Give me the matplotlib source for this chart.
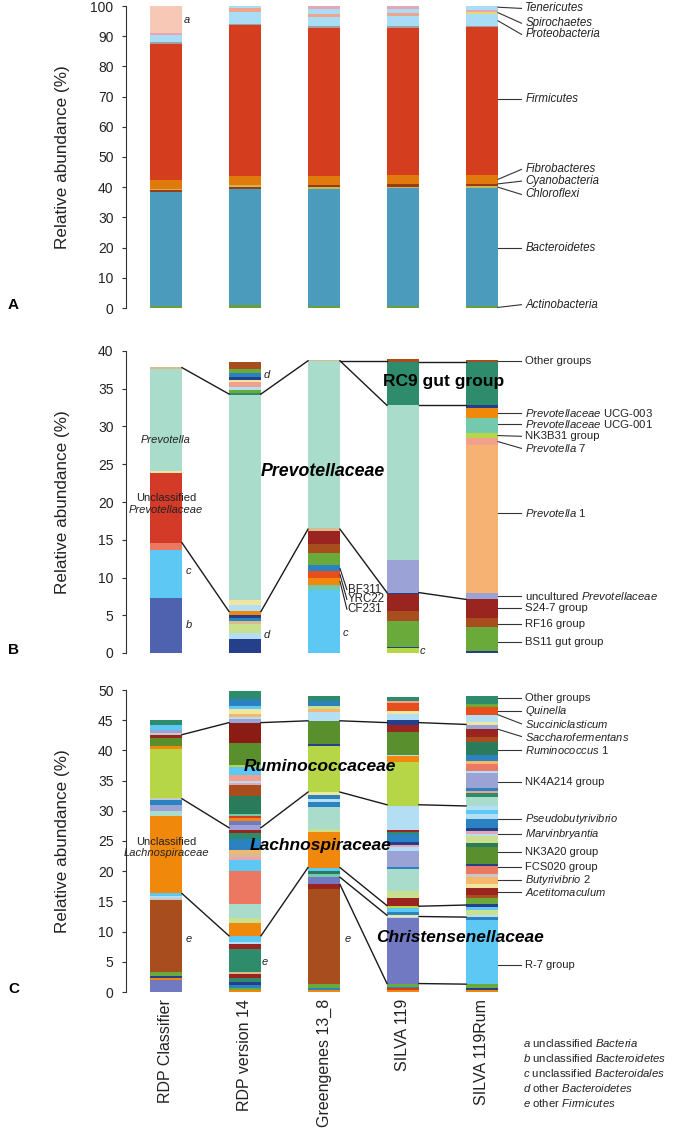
import matplotlib
matplotlib.use("Agg")
import matplotlib.pyplot as plt
import numpy as np

plt.rcParams['font.family'] = 'Liberation Sans'
plt.rcParams['mathtext.fontset'] = 'custom'
plt.rcParams['mathtext.rm'] = 'Liberation Sans'
plt.rcParams['mathtext.it'] = 'Liberation Sans:italic'
plt.rcParams['mathtext.bf'] = 'Liberation Sans:bold'

# ---------------- data ----------------
databases = ["RDP Classifier", "RDP version 14", "Greengenes 13_8", "SILVA 119", "SILVA 119Rum"]

# panel A: phyla, relative abundance (%) of each stacked segment, bottom -> top
A_rdp = [0.7, 37.8, 0.5, 0.5, 3.0, 45.0, 0.5, 2.3, 0.7, 9.0]
A_rdp14 = [1.0, 38.4, 0.7, 0.5, 3.2, 50.0, 0.4, 3.8, 1.2, 0.8]
A_gg = [0.8, 38.7, 0.6, 0.7, 3.0, 49.0, 0.6, 3.1, 1.0, 1.5, 1.0]
A_silva = [0.8, 38.9, 0.5, 0.8, 3.0, 48.8, 0.6, 3.2, 1.0, 1.4, 1.0]
A_rum = [0.8, 39.0, 0.5, 0.7, 3.0, 49.0, 0.5, 3.7, 0.8, 0.8, 1.2]

# panel B: Bacteroidetes genera
B_rdp = [7.3, 6.3, 1.0, 9.2, 0.3, 13.5, 0.3]
B_rdp14 = [1.8, 0.8, 1.2, 0.5, 0.4, 0.3, 0.5, 0.8, 0.7, 27.2, 0.3, 0.3, 0.4, 0.7, 0.2, 0.4, 0.6, 0.5, 0.9]
B_gg = [8.3, 0.7, 0.9, 1.0, 0.7, 1.6, 1.3, 1.7, 0.3, 22.2, 0.1]
B_silva = [0.6, 0.2, 3.4, 1.3, 2.3, 0.2, 4.3, 20.5, 5.7, 0.4]
B_rum = [0.2, 3.2, 1.3, 2.4, 0.9, 19.5, 1.0, 0.6, 2.0, 1.4, 0.3, 5.7, 0.3]

# panel C: Firmicutes genera
C_rdp = [2.0, 0.3, 0.3, 0.7, 12.0, 0.3, 0.3, 0.5, 12.7, 0.9, 1.0, 0.8, 0.3, 8.1,
         0.5, 1.4, 0.4, 0.4, 0.4, 0.9, 0.8]
C_rdp14 = [0.3, 0.4, 0.5, 0.4, 0.7, 0.7, 0.3, 3.9, 0.7, 0.4, 1.0, 2.2, 0.8, 2.3, 5.5,
           1.8, 0.4, 0.7, 0.5, 1.8, 1.1, 0.5, 0.3, 0.4, 0.7, 0.5, 0.4, 0.3, 2.9, 1.9,
           0.3, 0.4, 0.9, 1.3, 0.4, 3.7, 3.3, 0.6, 0.4, 0.4, 0.9, 0.4, 1.2, 1.3]
C_gg = [0.3, 0.3, 0.7, 15.7, 0.8, 1.2, 0.5, 0.5, 0.6, 5.9, 0.5, 3.6, 0.9, 0.4, 0.7,
        0.5, 7.7, 0.2, 3.8, 1.5, 0.5, 0.5, 0.9, 0.8]
C_silva = [0.3, 0.3, 0.3, 0.5, 10.8, 0.3, 0.3, 0.4, 0.7, 0.4, 1.2, 1.2, 3.6, 0.4,
           2.6, 0.7, 0.4, 0.4, 1.3, 0.4, 0.3, 4.0, 7.2, 1.0, 0.3, 3.7, 1.2, 0.9,
           1.0, 0.4, 1.3, 0.4, 0.6]
C_rum = [0.3, 0.3, 0.7, 10.7, 0.4, 0.4, 0.7, 0.6, 0.4, 1.0, 0.5, 1.3, 0.5, 1.2, 0.6,
         1.2, 0.4, 2.8, 0.6, 1.2, 0.4, 0.5, 0.4, 1.6, 0.8, 0.6, 0.7, 1.5, 0.6, 0.3,
         0.5, 2.6, 0.3, 1.2, 0.4, 1.0, 2.2, 0.9, 1.3, 0.6, 0.5, 1.1, 1.4, 0.4, 1.4]

# family connector lines: (from bar, value at that bar, value at next bar)
B_links = [(0, 37.8, 34.3), (1, 34.3, 38.7), (2, 38.7, 38.7), (2, 38.7, 32.8),
           (3, 38.6, 38.6), (3, 32.9, 32.9),
           (0, 14.6, 5.5), (1, 5.5, 16.4), (2, 16.4, 8.0), (3, 8.0, 7.1)]
C_links = [(0, 42.6, 44.6), (1, 44.6, 44.9), (2, 44.9, 44.6), (3, 44.6, 44.3),
           (0, 32.0, 27.2), (1, 27.2, 33.1), (2, 33.1, 31.0), (3, 31.0, 30.8),
           (0, 16.3, 9.3), (1, 9.3, 20.6), (2, 20.6, 14.3), (3, 14.2, 14.4),
           (2, 19.0, 12.7), (3, 12.5, 12.4), (2, 17.8, 1.4), (3, 1.4, 1.3)]

# right-hand labels: (text, value at bar, value at label)
A_labels = [("Tenericutes", 99.6, 99.2), ("Spirochaetes", 97.8, 94.3),
            ("Proteobacteria", 95.1, 90.6), ("Firmicutes", 69.2, 69.2),
            ("Fibrobacteres", 42.6, 45.9), ("Cyanobacteria", 41.1, 42.0),
            ("Chloroflexi", 40.0, 37.6), ("Bacteroidetes", 19.8, 19.8),
            ("Actinobacteria", 0.2, 1.1)]
B_labels = [("Other groups", 38.7, 38.7),
            (r"$\mathit{Prevotellaceae}\ $UCG-003", 31.8, 31.8),
            (r"$\mathit{Prevotellaceae}\ $UCG-001", 30.3, 30.3),
            ("NK3B31 group", 28.8, 28.7),
            (r"$\mathit{Prevotella}\ $7", 28.0, 27.1),
            (r"$\mathit{Prevotella}\ $1", 18.6, 18.6),
            (r"uncultured$\ \mathit{Prevotellaceae}$", 7.5, 7.5),
            ("S24-7 group", 5.9, 5.9), ("RF16 group", 3.9, 3.9),
            ("BS11 gut group", 1.5, 1.5)]
C_labels = [("Other groups", 48.6, 48.6), (r"$\mathit{Quinella}$", 46.5, 46.5),
            (r"$\mathit{Succiniclasticum}$", 45.9, 44.4),
            (r"$\mathit{Saccharofermentans}$", 43.5, 42.3),
            (r"$\mathit{Ruminococcus}\ $1", 40.1, 40.1),
            ("NK4A214 group", 34.7, 34.7),
            (r"$\mathit{Pseudobutyrivibrio}$", 28.6, 28.6),
            (r"$\mathit{Marvinbryantia}$", 26.1, 26.1),
            ("NK3A20 group", 23.1, 23.1), ("FCS020 group", 20.7, 20.7),
            (r"$\mathit{Butyrivibrio}\ $2", 18.6, 18.6),
            (r"$\mathit{Acetitomaculum}$", 16.5, 16.5),
            ("R-7 group", 4.5, 4.5)]

footnotes = [r"$\mathit{a}\ $unclassified$\ \mathit{Bacteria}$",
             r"$\mathit{b}\ $unclassified$\ \mathit{Bacteroidetes}$",
             r"$\mathit{c}\ $unclassified$\ \mathit{Bacteroidales}$",
             r"$\mathit{d}\ $other$\ \mathit{Bacteroidetes}$",
             r"$\mathit{e}\ $other$\ \mathit{Firmicutes}$"]

# ---------------- colours ----------------
pal = {
    'actino': '#6b9e3c', 'bact': '#4b9bbd', 'chloro': '#c9b84a', 'cyano': '#9c3a1e',
    'fibro': '#e07a0c', 'firm': '#d43e1f', 'grey': '#a0a0a0', 'proteo': '#a9dcf5',
    'spiro': '#f0a48e', 'pink': '#e8a6b4', 'uncbac': '#f8c8b6', 'yellow': '#e8d870',
    'navy': '#263f8b', 'blue': '#2b82c0', 'sky': '#5ec8f5', 'pale': '#b4def3',
    'lav': '#9aa2d6', 'slate': '#7079c2', 'mint': '#a9dccb', 'sea': '#72c9ac',
    'teal': '#2e8b6c', 'dteal': '#2a7a5c', 'green': '#6aaa3a', 'olive': '#5a8f2e',
    'lime': '#b7d647', 'plime': '#c9e08e', 'pyel': '#efe6a0', 'tan': '#d9bb8e',
    'peach': '#f5b272', 'salmon': '#ec7862', 'lsalmon': '#f0a08c', 'orange': '#f0880c',
    'rorange': '#e84e1c', 'red': '#d43a28', 'dred': '#9a2420', 'brown': '#a84d1d',
    'maroon': '#8a1c14', 'unb': '#4f62b0', 'ltorange': '#f5b86a', 'grey2': '#c8c8c8',
}

A_cols = [
    ['actino', 'bact', 'cyano', 'chloro', 'fibro', 'firm', 'grey', 'proteo', 'pink', 'uncbac'],
    ['actino', 'bact', 'cyano', 'chloro', 'fibro', 'firm', 'grey', 'proteo', 'spiro', 'proteo'],
    ['actino', 'bact', 'chloro', 'cyano', 'fibro', 'firm', 'grey', 'proteo', 'spiro', 'proteo', 'pink'],
    ['actino', 'bact', 'chloro', 'cyano', 'fibro', 'firm', 'grey', 'proteo', 'spiro', 'proteo', 'pink'],
    ['actino', 'bact', 'chloro', 'cyano', 'fibro', 'firm', 'grey', 'proteo', 'yellow', 'pink', 'proteo'],
]
B_cols = [
    ['unb', 'sky', 'salmon', 'red', 'pyel', 'mint', 'tan'],
    ['navy', 'pale', 'plime', 'tan', 'blue', 'navy', 'orange', 'pale', 'pyel', 'mint',
     'teal', 'green', 'pale', 'lsalmon', 'pyel', 'navy', 'blue', 'green', 'brown'],
    ['sky', 'sea', 'orange', 'rorange', 'blue', 'green', 'brown', 'dred', 'tan', 'mint', 'tan'],
    ['lime', 'navy', 'green', 'brown', 'dred', 'navy', 'lav', 'mint', 'teal', 'brown'],
    ['navy', 'green', 'brown', 'dred', 'lav', 'peach', 'lsalmon', 'lime', 'sea', 'orange',
     'navy', 'teal', 'brown'],
]
C_cols = [
    ['slate', 'orange', 'navy', 'green', 'brown', 'grey2', 'pale', 'sky', 'orange', 'mint',
     'lav', 'blue', 'grey2', 'lime', 'orange', 'olive', 'dred', 'grey2', 'lav', 'sky', 'teal'],
    ['orange', 'green', 'blue', 'navy', 'teal', 'dred', 'tan', 'teal', 'dred', 'pale', 'sky',
     'orange', 'plime', 'mint', 'salmon', 'sky', 'pink', 'tan', 'ltorange', 'blue', 'teal',
     'dred', 'lav', 'lav', 'slate', 'orange', 'red', 'sea', 'dteal', 'brown', 'pink', 'pale',
     'lsalmon', 'sky', 'lime', 'olive', 'maroon', 'lav', 'pale', 'ltorange', 'pyel', 'sky',
     'blue', 'teal'],
    ['orange', 'blue', 'green', 'brown', 'dred', 'slate', 'sea', 'dteal', 'sky', 'orange',
     'plime', 'mint', 'blue', 'pale', 'blue', 'pyel', 'lime', 'navy', 'olive', 'pale',
     'ltorange', 'plime', 'blue', 'teal'],
    ['orange', 'red', 'blue', 'green', 'slate', 'pale', 'pyel', 'blue', 'sky', 'lime', 'dred',
     'plime', 'mint', 'blue', 'lav', 'pale', 'pink', 'navy', 'blue', 'teal', 'dred', 'pale',
     'lime', 'orange', 'pale', 'olive', 'dred', 'navy', 'pale', 'pyel', 'rorange', 'lsalmon',
     'teal'],
    ['orange', 'navy', 'green', 'sky', 'blue', 'pale', 'plime', 'sky', 'navy', 'green', 'brown',
     'dred', 'pyel', 'ltorange', 'grey2', 'salmon', 'navy', 'olive', 'dteal', 'plime', 'pale',
     'pink', 'navy', 'blue', 'pale', 'sky', 'pale', 'mint', 'teal', 'lsalmon', 'blue', 'lav',
     'pale', 'salmon', 'ltorange', 'blue', 'dteal', 'brown', 'dred', 'lav', 'pyel', 'pale',
     'rorange', 'green', 'teal'],
]

# ---------------- layout ----------------
W, H = 675, 1139
BAR_W = 0.405
LABEL_FS = 8.0
fig = plt.figure(figsize=(W / 100, H / 100), dpi=100)


def make_axes(top_px, bottom_px):
    left_px, right_px = 126, 640
    ax = fig.add_axes([left_px / W, 1 - bottom_px / H, (right_px - left_px) / W,
                       (bottom_px - top_px) / H])
    ax.set_xlim(-0.506, -0.506 + (right_px - left_px) / 79.0)
    for s in ['top', 'right', 'bottom']:
        ax.spines[s].set_visible(False)
    ax.spines['left'].set_color('#333333')
    ax.spines['left'].set_linewidth(0.8)
    ax.tick_params(axis='y', direction='out', length=3, width=0.8, colors='#333333',
                   labelsize=10, pad=6, labelcolor='#222222')
    ax.tick_params(axis='x', length=0)
    ax.set_xticks([])
    return ax


def draw_bars(ax, bars, cols):
    for i, (vals, cc) in enumerate(zip(bars, cols)):
        vals = np.array(vals)
        bottoms = np.concatenate([[0], np.cumsum(vals)[:-1]])
        ax.bar(np.full(len(vals), i), vals, bottom=bottoms, width=BAR_W,
               color=[pal[c] for c in cc], linewidth=0)


def draw_links(ax, links):
    for i, y0, y1 in links:
        ax.plot([i + BAR_W / 2, i + 1 - BAR_W / 2], [y0, y1], color='#1a1a1a',
                lw=1.0, clip_on=False, zorder=3)


def draw_right_labels(ax, labels, italic=False, fs=LABEL_FS):
    for txt, yb, yt in labels:
        ax.plot([4 + BAR_W / 2, 4.50], [yb, yt], color='#333333', lw=0.8, clip_on=False)
        ax.text(4.55, yt, txt, ha='left', va='center', fontsize=fs,
                style='italic' if italic else 'normal', color='#222222', clip_on=False)


def small_letter(ax, x, y, s):
    ax.text(x, y, s, ha='center', va='center', fontsize=8, style='italic', color='#222222')


# panel A
axA = make_axes(6, 308)
axA.set_ylim(0, 100)
axA.set_yticks(np.arange(0, 101, 10))
draw_bars(axA, [A_rdp, A_rdp14, A_gg, A_silva, A_rum], A_cols)
draw_right_labels(axA, A_labels, italic=True, fs=8.3)
small_letter(axA, 0.27, 95.4, 'a')

# panel B
axB = make_axes(351, 653)
axB.set_ylim(0, 40)
axB.set_yticks(np.arange(0, 41, 5))
draw_bars(axB, [B_rdp, B_rdp14, B_gg, B_silva, B_rum], B_cols)
draw_links(axB, B_links)
draw_right_labels(axB, B_labels, fs=8.2)
axB.text(0, 28.2, 'Prevotella', ha='center', va='center', fontsize=8, style='italic', color='#222222')
axB.text(0, 20.5, 'Unclassified', ha='center', va='center', fontsize=8, color='#222222')
axB.text(0, 18.9, 'Prevotellaceae', ha='center', va='center', fontsize=8, style='italic', color='#222222')
axB.text(1.99, 24.1, 'Prevotellaceae', ha='center', va='center', fontsize=12.8,
         style='italic', weight='bold', zorder=5)
axB.text(3.51, 35.9, 'RC9 gut group', ha='center', va='center', fontsize=12.5,
         weight='bold', zorder=5)
for s, y in [('c', 10.8), ('b', 3.7)]:
    small_letter(axB, 0.29, y, s)
small_letter(axB, 1.27, 36.8, 'd')
small_letter(axB, 1.27, 2.4, 'd')
small_letter(axB, 2.27, 2.6, 'c')
small_letter(axB, 3.25, 0.3, 'c')
for txt, yb, yt in [('BF311', 11.2, 8.4), ('YRC22', 10.4, 7.1), ('CF231', 9.5, 5.8)]:
    axB.plot([2 + BAR_W / 2, 2.29], [yb, yt], color='#222222', lw=0.8)
    axB.text(2.30, yt, txt, ha='left', va='center', fontsize=8.3, color='#222222')

# panel C
axC = make_axes(690, 992)
axC.set_ylim(0, 50)
axC.set_yticks(np.arange(0, 51, 5))
draw_bars(axC, [C_rdp, C_rdp14, C_gg, C_silva, C_rum], C_cols)
draw_links(axC, C_links)
draw_right_labels(axC, C_labels)
axC.text(0, 24.9, 'Unclassified', ha='center', va='center', fontsize=8, color='#222222')
axC.text(0, 23.0, 'Lachnospiraceae', ha='center', va='center', fontsize=8, style='italic', color='#222222')
axC.text(1.95, 37.4, 'Ruminococcaceae', ha='center', va='center', fontsize=12.5,
         style='italic', weight='bold', zorder=5)
axC.text(1.96, 24.3, 'Lachnospiraceae', ha='center', va='center', fontsize=12.5,
         style='italic', weight='bold', zorder=5)
axC.text(3.72, 9.1, 'Christensenellaceae', ha='center', va='center', fontsize=12.5,
         style='italic', weight='bold', zorder=5)
small_letter(axC, 0.29, 8.7, 'e')
small_letter(axC, 1.25, 5.0, 'e')
small_letter(axC, 2.30, 8.7, 'e')
axC.set_xticks(range(len(databases)))
axC.set_xticklabels(databases, rotation=90, fontsize=11.5, va='top', ha='center', color='#222222')
axC.tick_params(axis='x', length=0, pad=5)

# y labels and panel letters
for top_px, bottom_px, letter in [(6, 308, 'A'), (351, 653, 'B'), (690, 992, 'C')]:
    fig.text(62 / W, 1 - (top_px + bottom_px) / 2 / H, 'Relative abundance (%)', rotation=90,
             ha='center', va='center', fontsize=12.3, color='#222222')
    fig.text(8 / W, 1 - (bottom_px - 3) / H, letter, ha='left', va='center', fontsize=11,
             weight='bold')

for k, line in enumerate(footnotes):
    fig.text(523 / W, 1 - (1043 + 15 * k) / H, line, ha='left', va='center', fontsize=8.2,
             color='#222222')

fig.savefig('out.png', dpi=100)
